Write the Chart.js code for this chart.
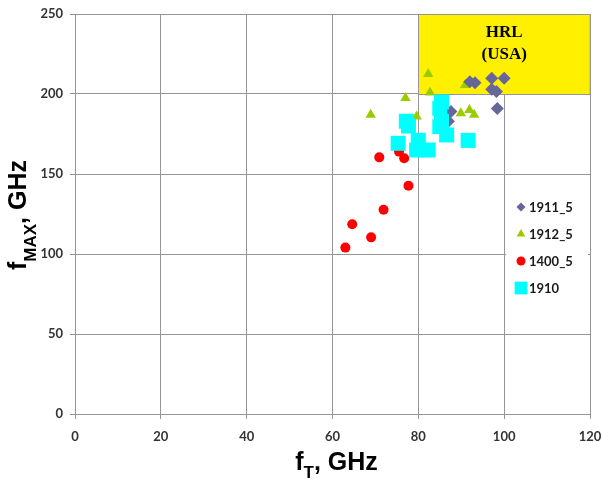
<!DOCTYPE html>
<html lang="en">
<head>
  <meta charset="UTF-8">
  <title>fT vs fMAX</title>
  <script src="https://cdn.jsdelivr.net/npm/chart.js"></script>
  <style>
    html, body { margin: 0; padding: 0; background: #fff; }
    #wrap { width: 603px; height: 479px; }
  </style>
</head>
<body>
  <div id="wrap"><canvas id="fChart" width="603" height="479"></canvas></div>

  <script>
    // data: [fT, fMAX] in GHz
    const s1911_5 = [[87.6, 189], [87, 183], [92, 207.7], [93.2, 207], [97.1, 209.8],
                     [100, 209.8], [97.1, 203], [98.2, 201.5], [98.4, 191]];
    const s1912_5 = [[68.9, 187], [77, 197.5], [79.6, 186], [82.3, 212.5], [82.7, 201],
                     [89.9, 188], [90.9, 205.6], [91.9, 190], [93, 187]];
    const s1400_5 = [[63, 104], [64.6, 118.6], [69, 110.4], [71.9, 127.7], [70.9, 160.4],
                     [75.5, 164], [76.7, 159.8], [77.7, 142.7]];
    const s1910 = [[75.3, 169.2], [77.2, 183], [77.7, 180], [80, 171], [79.6, 165], [82.3, 165],
                   [85.4, 195], [85, 191], [85.4, 183], [85, 179.6], [86.6, 174.4], [91.6, 171]];

    const seriesNames = ['1911_5', '1912_5', '1400_5', '1910'];
    const xTicks = [0, 20, 40, 60, 80, 100, 120];
    const yTicks = [0, 50, 100, 150, 200, 250];
    const hrlBox = [80, 120, 200, 250]; // x0, x1, y0, y1
    const hrlText = ['HRL', '(USA)'];

    const toPts = arr => arr.map(p => ({ x: p[0], y: p[1] }));

    const styles = {
      '1911_5': { color: '#666699', style: 'rectRot', r: 6.5, lr: 4.5 },
      '1912_5': { color: '#99CC00', style: 'triangle', r: 6, lr: 5 },
      '1400_5': { color: '#FF0000', style: 'circle', r: 5, lr: 4.5 },
      '1910':   { color: '#00FFFF', style: 'rect', r: 10.6, lr: 9 }
    };
    const seriesData = { '1911_5': s1911_5, '1912_5': s1912_5, '1400_5': s1400_5, '1910': s1910 };
    const drawOrder = { '1910': 0, '1911_5': 1, '1912_5': 2, '1400_5': 3 };

    const gridColor = '#959595';
    const tickColor = '#333333';

    // yellow HRL region, under the markers
    const hrlPlugin = {
      id: 'hrl',
      beforeDatasetsDraw(chart) {
        const { ctx, scales: { x, y } } = chart;
        const l = x.getPixelForValue(hrlBox[0]), r = x.getPixelForValue(hrlBox[1]);
        const b = y.getPixelForValue(hrlBox[2]), t = y.getPixelForValue(hrlBox[3]);
        ctx.save();
        ctx.fillStyle = '#FFF000';
        ctx.fillRect(l, t, r - l, b - t);
        ctx.strokeStyle = gridColor;
        ctx.lineWidth = 1;
        ctx.strokeRect(Math.round(l) + 0.5, Math.round(t) + 0.5, r - l, b - t);
        ctx.fillStyle = '#000';
        ctx.font = 'bold 17px "Liberation Serif", serif';
        ctx.textAlign = 'center';
        ctx.textBaseline = 'middle';
        const cx = (l + r) / 2;
        ctx.fillText(hrlText[0], cx, t + 19);
        ctx.fillText(hrlText[1], cx, t + 41);
        ctx.restore();
      }
    };

    function marker(ctx, style, x, y, r) {
      ctx.beginPath();
      if (style === 'circle') {
        ctx.arc(x, y, r, 0, Math.PI * 2);
      } else if (style === 'rect') {
        const s = r * Math.SQRT1_2;
        ctx.rect(x - s, y - s, 2 * s, 2 * s);
      } else if (style === 'rectRot') {
        ctx.moveTo(x, y - r); ctx.lineTo(x + r, y); ctx.lineTo(x, y + r); ctx.lineTo(x - r, y);
        ctx.closePath();
      } else if (style === 'triangle') {
        const w = r * Math.sqrt(3) / 2;
        ctx.moveTo(x, y - r); ctx.lineTo(x + w, y + r / 2); ctx.lineTo(x - w, y + r / 2);
        ctx.closePath();
      }
      ctx.fill();
    }

    // legend box inside the plot + axis titles with subscripts
    const overlayPlugin = {
      id: 'overlay',
      afterDatasetsDraw(chart) {
        const { ctx, scales: { x, y } } = chart;
        ctx.save();
        const lx = x.getPixelForValue(100) + 2;
        const rx = x.right - 2;
        ctx.fillStyle = '#fff';
        ctx.fillRect(lx, 195, rx - lx, 105);
        ctx.font = 'bold 13px Lato, "Open Sans", sans-serif';
        ctx.textBaseline = 'middle';
        ctx.textAlign = 'left';
        seriesNames.forEach((n, i) => {
          const yy = 207 + i * 27;
          ctx.fillStyle = styles[n].color;
          marker(ctx, styles[n].style, 521, yy, styles[n].lr);
          ctx.fillStyle = '#1a1a1a';
          ctx.fillText(n, 529, yy + 1);
        });

        // x title: f_T, GHz
        ctx.fillStyle = '#000';
        ctx.textBaseline = 'alphabetic';
        const big = 'bold 25px "Liberation Sans", Arial, sans-serif';
        const small = 'bold 17px "Liberation Sans", Arial, sans-serif';
        let parts = [['f', big, 0], ['T', small, 8], [', GHz', big, 0]];
        let total = 0;
        parts.forEach(p => { ctx.font = p[1]; total += ctx.measureText(p[0]).width; });
        let cx = (x.left + x.right) / 2 + 4 - total / 2;
        parts.forEach(p => {
          ctx.font = p[1];
          ctx.fillText(p[0], cx, 470 + p[2]);
          cx += ctx.measureText(p[0]).width;
        });

        // y title: f_MAX, GHz (rotated)
        ctx.translate(26, 215);
        ctx.rotate(-Math.PI / 2);
        parts = [['f', big, 0], ['MAX', small, 10], [', GHz', big, 0]];
        total = 0;
        parts.forEach(p => { ctx.font = p[1]; total += ctx.measureText(p[0]).width; });
        cx = -total / 2;
        parts.forEach(p => {
          ctx.font = p[1];
          ctx.fillText(p[0], cx, p[2]);
          cx += ctx.measureText(p[0]).width;
        });
        ctx.restore();
      }
    };

    const datasets = seriesNames.map(n => ({
      label: n,
      data: toPts(seriesData[n]),
      pointStyle: styles[n].style,
      pointRadius: styles[n].r,
      pointHoverRadius: styles[n].r,
      backgroundColor: styles[n].color,
      borderColor: styles[n].color,
      pointBorderWidth: 0,
      showLine: false,
      order: drawOrder[n]
    }));

    const tickFont = { family: 'Lato, "Open Sans", sans-serif', size: 13, weight: 'bold' };

    new Chart(document.getElementById('fChart').getContext('2d'), {
      type: 'scatter',
      data: { datasets },
      options: {
        responsive: false,
        animation: false,
        layout: { padding: { top: 14, right: 13, left: 0, bottom: 0 } },
        plugins: { legend: { display: false }, tooltip: { enabled: false } },
        scales: {
          x: {
            type: 'linear',
            min: xTicks[0],
            max: xTicks[xTicks.length - 1],
            afterBuildTicks: s => { s.ticks = xTicks.map(v => ({ value: v })); },
            afterFit: s => { s.height = 65; s.paddingLeft = 0; s.paddingRight = 0; },
            grid: { color: gridColor, lineWidth: 1, tickLength: 5 },
            border: { color: gridColor },
            ticks: { color: tickColor, font: tickFont, padding: 10, maxRotation: 0 }
          },
          y: {
            type: 'linear',
            min: yTicks[0],
            max: yTicks[yTicks.length - 1],
            afterBuildTicks: s => { s.ticks = yTicks.map(v => ({ value: v })); },
            afterFit: s => { s.width = 75; s.paddingTop = 0; s.paddingBottom = 0; },
            grid: { color: gridColor, lineWidth: 1, tickLength: 5 },
            border: { color: gridColor },
            ticks: { color: tickColor, font: tickFont, padding: 7 }
          }
        }
      },
      plugins: [hrlPlugin, overlayPlugin]
    });
  </script>
</body>
</html>
